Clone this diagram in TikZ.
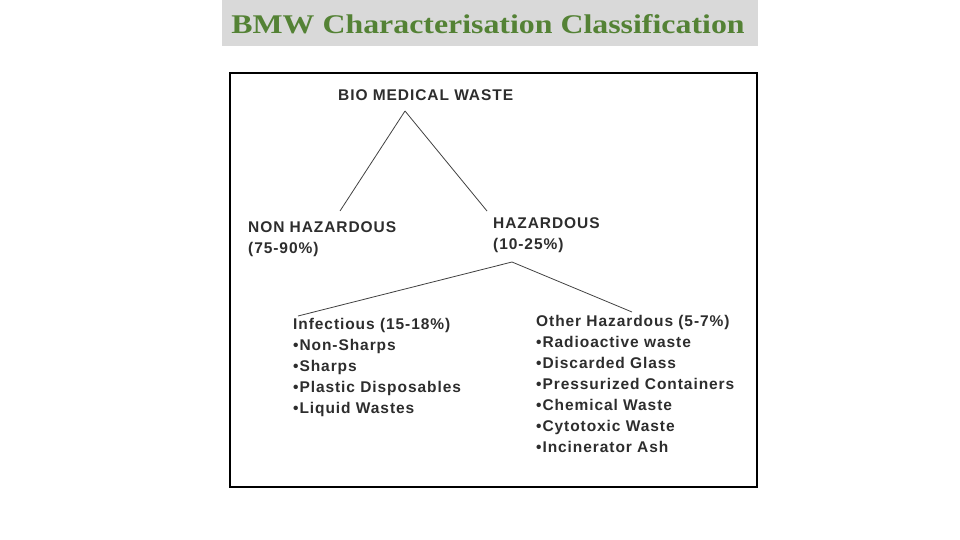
\documentclass[tikz,border=0pt]{standalone}
\usepackage{fontspec}
\setmainfont{Liberation Serif}
\newfontfamily\lab[LetterSpace=6]{Liberation Sans}
\definecolor{ttl}{RGB}{84,130,53}
\definecolor{tbg}{RGB}{217,217,217}
\definecolor{txt}{RGB}{45,45,45}
\begin{document}
\begin{tikzpicture}[x=1pt,y=-1pt,
  lbl/.style={anchor=north west,inner sep=0,font=\lab\bfseries\fontsize{15.5}{21}\selectfont,text=txt,align=left},
  br/.style={draw=black!75,line width=0.8pt}]
\useasboundingbox (0,0) rectangle (960,540);
\fill[tbg] (222,0) rectangle (758,46);
\node[font=\bfseries\fontsize{27}{30}\selectfont,text=ttl] (title) at (488,24) {\scalebox{1.18}[1]{BMW Characterisation Classification}};
\draw[line width=2.5pt] (230,73) rectangle (757,487);
\node[lbl] (bmw) at (338,89) {BIO MEDICAL WASTE};
\node[lbl] (nh) at (248,221) {NON HAZARDOUS\\(75-90\%)};
\node[lbl] (hz) at (493,217) {HAZARDOUS\\(10-25\%)};
\node[lbl] (inf) at (293,318) {Infectious (15-18\%)\\•Non-Sharps\\•Sharps\\•Plastic Disposables\\•Liquid Wastes};
\node[lbl] (oth) at (536,315) {Other Hazardous (5-7\%)\\•Radioactive waste\\•Discarded Glass\\•Pressurized Containers\\•Chemical Waste\\•Cytotoxic Waste\\•Incinerator Ash};
\coordinate (a) at (405,111);
\coordinate (b) at (512,262);
\draw[br] (a) -- (340,211);
\draw[br] (a) -- (487,211);
\draw[br] (b) -- (298,316);
\draw[br] (b) -- (632,312);
\end{tikzpicture}
\end{document}
